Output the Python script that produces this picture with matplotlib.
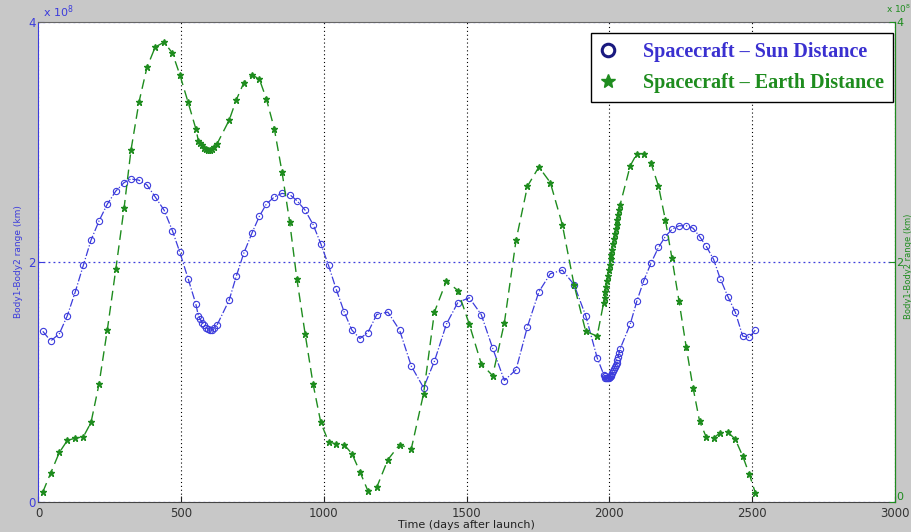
import numpy as np
import matplotlib
matplotlib.use('Agg')
import matplotlib.pyplot as plt
from matplotlib.lines import Line2D

# sample times (days after launch); dense samples around the two flybys
days = [15, 43, 73, 101, 129, 157, 184, 212, 241, 271, 300, 324, 352, 380, 409,
        440, 469, 495, 524, 551,
        560, 567, 574, 581, 588, 595, 602, 609, 616, 625,
        668, 693, 719, 748, 774, 798, 826, 853, 880, 905, 934, 962, 989, 1016,
        1043, 1071, 1098, 1126, 1154, 1185, 1224, 1265, 1306, 1349, 1387, 1429,
        1469, 1509, 1551, 1591, 1632, 1673, 1713, 1753, 1793, 1835, 1876, 1917,
        1957,
        1980, 1983, 1986, 1989, 1992, 1995, 1998, 2001, 2004, 2007, 2010, 2013,
        2016, 2019, 2022, 2025, 2028, 2031, 2034, 2037,
        2073, 2096, 2120, 2146, 2172, 2196, 2219, 2244, 2269, 2293, 2316, 2339,
        2365, 2388, 2415, 2441, 2467, 2490, 2511]

# spacecraft - sun distance (x 1e8 km)
sun_dist = [1.42, 1.34, 1.40, 1.55, 1.75, 1.97, 2.18, 2.34, 2.48, 2.59, 2.66,
            2.69, 2.68, 2.64, 2.54, 2.43, 2.26, 2.08, 1.86, 1.65,
            1.55, 1.52, 1.49, 1.47, 1.45, 1.44, 1.43, 1.435, 1.45, 1.47,
            1.68, 1.88, 2.07, 2.24, 2.38, 2.48, 2.54, 2.57, 2.56, 2.51, 2.43,
            2.31, 2.15, 1.97, 1.77, 1.58, 1.43, 1.36, 1.41, 1.56, 1.58, 1.43,
            1.13, 0.95, 1.17, 1.48, 1.66, 1.70, 1.56, 1.28, 1.01, 1.10, 1.46,
            1.75, 1.90, 1.93, 1.81, 1.55, 1.20,
            1.06, 1.045, 1.035, 1.03, 1.03, 1.03, 1.035, 1.04, 1.05, 1.06,
            1.075, 1.09, 1.105, 1.12, 1.14, 1.16, 1.18, 1.21, 1.24, 1.27,
            1.48, 1.67, 1.84, 1.99, 2.12, 2.21, 2.27, 2.30, 2.30, 2.28, 2.21,
            2.13, 2.02, 1.86, 1.71, 1.58, 1.38, 1.37, 1.43]

# spacecraft - earth distance (x 1e8 km)
earth_dist = [0.08, 0.24, 0.41, 0.51, 0.53, 0.54, 0.66, 0.98, 1.43, 1.94, 2.45,
              2.93, 3.33, 3.62, 3.79, 3.83, 3.74, 3.56, 3.33, 3.11,
              3.01, 2.99, 2.97, 2.95, 2.94, 2.93, 2.93, 2.94, 2.96, 2.98,
              3.18, 3.35, 3.49, 3.56, 3.52, 3.36, 3.11, 2.75, 2.33, 1.86, 1.40,
              0.98, 0.66, 0.50, 0.48, 0.475, 0.40, 0.25, 0.09, 0.12, 0.35,
              0.475, 0.44, 0.90, 1.58, 1.84, 1.76, 1.48, 1.15, 1.05, 1.49, 2.18,
              2.63, 2.79, 2.66, 2.31, 1.81, 1.42, 1.38,
              1.66, 1.70, 1.75, 1.79, 1.84, 1.88, 1.93, 1.97, 2.02, 2.06, 2.10,
              2.15, 2.19, 2.23, 2.27, 2.31, 2.35, 2.39, 2.43, 2.47,
              2.80, 2.90, 2.90, 2.82, 2.63, 2.35, 2.03, 1.67, 1.29, 0.95, 0.67,
              0.54, 0.53, 0.575, 0.58, 0.52, 0.38, 0.23, 0.075]

blue = '#3c3cdc'
green = '#1e8c1e'

fig = plt.figure(figsize=(9.12, 5.32), dpi=100, facecolor='#c8c8c8')
ax = fig.add_axes([0.0422, 0.057, 0.939, 0.902])
ax2 = ax.twinx()

ax.plot(days, sun_dist, '-.', color=blue, lw=0.9, marker='o', ms=4.5,
        mfc='none', mec=blue, mew=0.8)
ax2.plot(days, earth_dist, color=green, lw=1.0, dashes=(7, 4), marker='*',
         ms=5, mfc=green, mec=green)

for a in (ax, ax2):
    a.set_xlim(0, 3000)
    a.set_ylim(0, 4)
    a.set_yticks([0, 2, 4])
    a.tick_params(direction='in', labelsize=8.5, length=4)

ax.set_xticks([0, 500, 1000, 1500, 2000, 2500, 3000])
ax.tick_params(axis='x', colors='#222222', labelcolor='#333333')
ax.tick_params(axis='y', colors=blue, labelcolor=blue, pad=2)
ax2.tick_params(axis='y', colors=green, labelcolor=green, pad=1, labelsize=8)
ax2.get_yticklabels()[0].set_va('bottom')

ax.xaxis.grid(True, color='black', linestyle=(0, (1, 2.5)), lw=0.8)
ax.yaxis.grid(True, color=blue, linestyle=(0, (1.5, 2.5)), lw=0.9)

ax.spines['left'].set_color(blue)
ax.spines['bottom'].set_color('#444444')
ax.spines['top'].set_color('#666666')
ax2.spines['right'].set_color(green)
ax2.spines['left'].set_visible(False)
ax2.spines['top'].set_visible(False)
ax2.spines['bottom'].set_visible(False)

ax.set_xlabel('Time (days after launch)', fontsize=8, color='#222222', labelpad=0)
ax.set_ylabel('Body1-Body2 range (km)', fontsize=6.5, color=blue, labelpad=4)
fig.text(0.9965, 0.5, 'Body1-Body2 range (km)', rotation=90, fontsize=6,
         color=green, ha='center', va='center')

ax.text(0.005, 1.003, r'x 10$^8$', transform=ax.transAxes, fontsize=8,
        color=blue, va='bottom', ha='left')
fig.text(0.999, 0.971, r'x 10$^8$', fontsize=6.5, color=green,
         va='bottom', ha='right')

handles = [Line2D([], [], ls='none', marker='o', ms=9, mfc='none',
                  mec='#1a1a80', mew=2.2),
           Line2D([], [], ls='none', marker='*', ms=10, mfc=green, mec=green)]
leg = ax2.legend(handles, ['Spacecraft \u2013 Sun Distance',
                           'Spacecraft \u2013 Earth Distance'],
                 loc='upper right', bbox_to_anchor=(0.9975, 0.977),
                 borderaxespad=0,
                 prop={'family': 'Liberation Serif', 'weight': 'bold', 'size': 14.5},
                 labelcolor=['#3a30d0', green], fancybox=False, framealpha=1,
                 edgecolor='black', handlelength=0.8, handletextpad=1.3,
                 borderpad=0.45, labelspacing=0.55)
leg.get_frame().set_linewidth(1.0)

plt.savefig('out.png', dpi=100, facecolor=fig.get_facecolor())
